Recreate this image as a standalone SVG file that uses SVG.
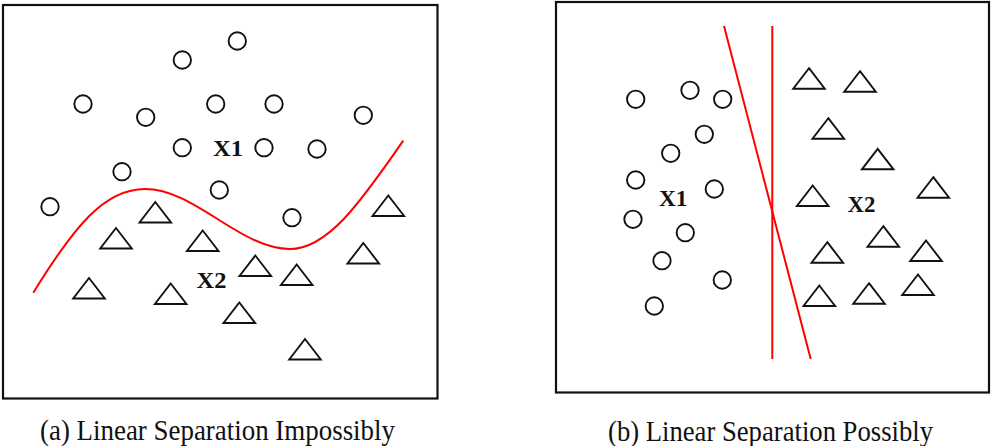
<svg xmlns="http://www.w3.org/2000/svg" xmlns:xlink="http://www.w3.org/1999/xlink" width="991" height="446" viewBox="0 0 991 446">
<style>
.frame{fill:#fff;stroke:#111;stroke-width:2.2}
.c{fill:none;stroke:#111;stroke-width:1.9}
.t{fill:none;stroke:#111;stroke-width:1.9;stroke-linejoin:miter}
.sep{fill:none;stroke:#f00;stroke-width:2}
.lbl{font-family:'Liberation Serif','DejaVu Serif',serif;font-weight:bold;font-size:24px;fill:#111}
.cap{font-family:'Liberation Serif','DejaVu Serif',serif;font-size:28.5px;fill:#111}
</style>
<defs>
<path id="tri" class="t" d="M0,0 L15.8,20.5 L-15.8,20.5 Z"/>
<circle id="cir" class="c" r="8.7"/>
</defs>
<rect width="991" height="446" fill="#fff"/>

<g id="panel-a">
<rect class="frame" x="3" y="5" width="434.5" height="393.5"/>
<g id="a-circles">
<g id="a-c1"><use xlink:href="#cir" x="237.3" y="41"/></g>
<g id="a-c2"><use xlink:href="#cir" x="182.3" y="60"/></g>
<g id="a-c3"><use xlink:href="#cir" x="83" y="104"/></g>
<g id="a-c4"><use xlink:href="#cir" x="145.7" y="117.3"/></g>
<g id="a-c5"><use xlink:href="#cir" x="215.7" y="104"/></g>
<g id="a-c6"><use xlink:href="#cir" x="274" y="104"/></g>
<g id="a-c7"><use xlink:href="#cir" x="363.3" y="115.3"/></g>
<g id="a-c8"><use xlink:href="#cir" x="182.3" y="147.7"/></g>
<g id="a-c9"><use xlink:href="#cir" x="264" y="147.7"/></g>
<g id="a-c10"><use xlink:href="#cir" x="317" y="149"/></g>
<g id="a-c11"><use xlink:href="#cir" x="122" y="171.7"/></g>
<g id="a-c12"><use xlink:href="#cir" x="219.3" y="190"/></g>
<g id="a-c13"><use xlink:href="#cir" x="50" y="206.7"/></g>
<g id="a-c14"><use xlink:href="#cir" x="292" y="217.7"/></g>
</g>
<g id="a-triangles">
<g id="a-t1"><use xlink:href="#tri" x="155.3" y="202"/></g>
<g id="a-t2"><use xlink:href="#tri" x="116" y="228"/></g>
<g id="a-t3"><use xlink:href="#tri" x="202.7" y="230.5"/></g>
<g id="a-t4"><use xlink:href="#tri" x="388.3" y="195.5"/></g>
<g id="a-t5"><use xlink:href="#tri" x="363.3" y="243"/></g>
<g id="a-t6"><use xlink:href="#tri" x="255.3" y="255.5"/></g>
<g id="a-t7"><use xlink:href="#tri" x="296.7" y="264.5"/></g>
<g id="a-t8"><use xlink:href="#tri" x="89" y="278"/></g>
<g id="a-t9"><use xlink:href="#tri" x="170.7" y="283.5"/></g>
<g id="a-t10"><use xlink:href="#tri" x="239.3" y="302.5"/></g>
<g id="a-t11"><use xlink:href="#tri" x="305" y="339"/></g>
</g>
<g id="a-labels">
<text class="lbl" x="213" y="156" textLength="30" lengthAdjust="spacingAndGlyphs">X1</text>
<text class="lbl" x="196.5" y="287.5" textLength="30" lengthAdjust="spacingAndGlyphs">X2</text>
</g>
</g>

<g id="panel-b">
<rect class="frame" x="556" y="2" width="433" height="390.5"/>
<g id="b-circles">
<g id="b-c1"><use xlink:href="#cir" x="635.7" y="99.3"/></g>
<g id="b-c2"><use xlink:href="#cir" x="690" y="90.3"/></g>
<g id="b-c3"><use xlink:href="#cir" x="722.7" y="99.3"/></g>
<g id="b-c4"><use xlink:href="#cir" x="704.3" y="134.3"/></g>
<g id="b-c5"><use xlink:href="#cir" x="670.7" y="153.3"/></g>
<g id="b-c6"><use xlink:href="#cir" x="635.7" y="180"/></g>
<g id="b-c7"><use xlink:href="#cir" x="714.3" y="189"/></g>
<g id="b-c8"><use xlink:href="#cir" x="633" y="219.3"/></g>
<g id="b-c9"><use xlink:href="#cir" x="685.3" y="232.7"/></g>
<g id="b-c10"><use xlink:href="#cir" x="662" y="260.7"/></g>
<g id="b-c11"><use xlink:href="#cir" x="722.3" y="280"/></g>
<g id="b-c12"><use xlink:href="#cir" x="654.3" y="306"/></g>
</g>
<g id="b-triangles">
<g id="b-t1"><use xlink:href="#tri" x="809" y="68.2"/></g>
<g id="b-t2"><use xlink:href="#tri" x="860" y="71.2"/></g>
<g id="b-t3"><use xlink:href="#tri" x="828.3" y="118.2"/></g>
<g id="b-t4"><use xlink:href="#tri" x="877.7" y="148.8"/></g>
<g id="b-t5"><use xlink:href="#tri" x="933.3" y="177.2"/></g>
<g id="b-t6"><use xlink:href="#tri" x="812.7" y="185.5"/></g>
<g id="b-t7"><use xlink:href="#tri" x="883.3" y="226.2"/></g>
<g id="b-t8"><use xlink:href="#tri" x="827.3" y="242.2"/></g>
<g id="b-t9"><use xlink:href="#tri" x="926" y="240.5"/></g>
<g id="b-t10"><use xlink:href="#tri" x="819.3" y="285.5"/></g>
<g id="b-t11"><use xlink:href="#tri" x="869" y="283.2"/></g>
<g id="b-t12"><use xlink:href="#tri" x="918" y="274.5"/></g>
</g>
<g id="b-labels">
<text class="lbl" x="659" y="206" textLength="28.5" lengthAdjust="spacingAndGlyphs">X1</text>
<text class="lbl" x="847.5" y="212.3" textLength="28" lengthAdjust="spacingAndGlyphs">X2</text>
</g>
</g>

<g id="connectors">
<path id="curve-a" class="sep" d="M33.3,292.7 C75,225 105,189 145,189 C195,189 240,249 290,249 C330,249 365,195 403.3,140.7"/>
<line id="line-b-vertical" class="sep" x1="772.3" y1="26" x2="772.3" y2="359"/>
<line id="line-b-slanted" class="sep" x1="724" y1="26" x2="810.7" y2="359"/>
</g>

<g id="captions">
<text class="cap" x="40" y="440" textLength="355" lengthAdjust="spacingAndGlyphs">(a) Linear Separation Impossibly</text>
<text class="cap" x="608" y="441" textLength="325" lengthAdjust="spacingAndGlyphs">(b) Linear Separation Possibly</text>
</g>
</svg>
